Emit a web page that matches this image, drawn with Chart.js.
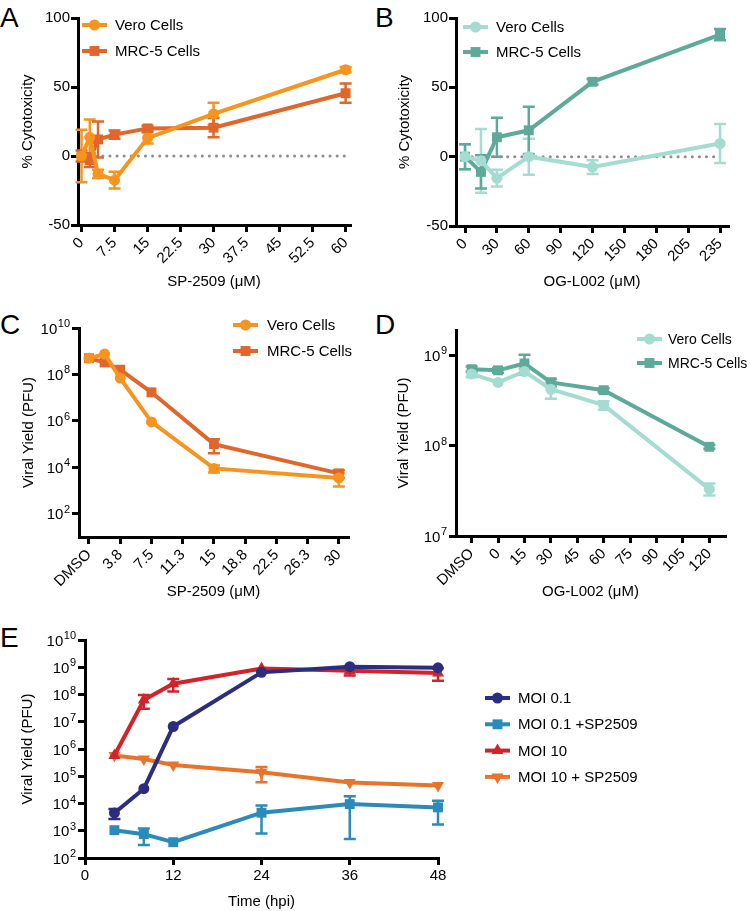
<!DOCTYPE html>
<html>
<head>
<meta charset="utf-8">
<script src="https://cdn.jsdelivr.net/npm/chart.js"></script>
<style>
  html, body { margin: 0; padding: 0; background: #fff; }
  body { position: relative; width: 750px; height: 911px; overflow: hidden;
         font-family: 'Liberation Sans', Arial, sans-serif; }
  canvas { position: absolute; }
  .letter { position: absolute; font-size: 28px; line-height: 1; color: #000; }
</style>
</head>
<body>
<div class="letter" style="left:0;top:4px">A</div>
<div class="letter" style="left:375px;top:4px">B</div>
<div class="letter" style="left:0;top:311px">C</div>
<div class="letter" style="left:375px;top:311px">D</div>
<div class="letter" style="left:0;top:624px">E</div>

<canvas id="chartA" width="375" height="305" style="left:0;top:0"></canvas>
<canvas id="chartB" width="375" height="305" style="left:375px;top:0"></canvas>
<canvas id="chartC" width="375" height="300" style="left:0;top:305px"></canvas>
<canvas id="chartD" width="375" height="300" style="left:375px;top:305px"></canvas>
<canvas id="chartE" width="750" height="301" style="left:0;top:610px"></canvas>

<script>
// ---- data ----
// A: cytotoxicity, SP-2509
const doseA = [0, 1.875, 3.75, 7.5, 15, 30, 60];
const veroA = [0, 13.5, -13, -17.5, 13, 30.5, 62.5];
const veroAErr = [19, 13, 3, 6, 4, 8, 2];
const mrcA = [0, -3, 12, 15.5, 20, 20.5, 45.5];
const mrcAErr = [4, 5, 13, 3, 2, 7, 7];
const xTicksA = [0, 7.5, 15, 22.5, 30, 37.5, 45, 52.5, 60];
const xLabelsA = ['0', '7.5', '15', '22.5', '30', '37.5', '45', '52.5', '60'];
const yTicksCyto = [-50, 0, 50, 100];

// B: cytotoxicity, OG-L002 (axis labels are evenly spaced)
const doseB = [0, 15, 30, 60, 120, 235];
const veroB = [0, -3, -15.5, 0, -7.5, 9.5];
const veroBErr = [9, 23, 6, 13, 5, 14];
const mrcB = [0, -11, 14, 19, 54, 88];
const mrcBErr = [9, 12, 14, 17, 2, 4];
const xLabelsB = ['0', '30', '60', '90', '120', '150', '180', '205', '235'];

// C: viral yield, SP-2509 (0 = DMSO)
const doseC = [0, 1.875, 3.75, 7.5, 15, 30];
const veroC = [5e8, 7.5e8, 7e7, 9e5, 9e3, 3.5e3];
const veroCErr = [0, 0, 0, 0, 3e3, 2e3];
const mrcC = [5e8, 3.3e8, 1.6e8, 1.7e7, 1e5, 5.5e3];
const mrcCErr = [0, 0, 0, 0, 6e4, 2e3];
const xTicksC = [0, 3.75, 7.5, 11.25, 15, 18.75, 22.5, 26.25, 30];
const xLabelsC = ['DMSO', '3.8', '7.5', '11.3', '15', '18.8', '22.5', '26.3', '30'];
const yTicksC = [1e2, 1e4, 1e6, 1e8, 1e10];

// D: viral yield, OG-L002 (-15 = DMSO slot)
const doseD = [-15, 0, 15, 30, 60, 120];
const veroD = [6.2e8, 5e8, 6.6e8, 4.2e8, 2.8e8, 3.3e7];
const veroDErr = [5e7, 0, 5e7, 9e7, 3e7, 5e6];
const mrcD = [7e8, 6.8e8, 8.1e8, 5e8, 4.1e8, 9.7e7];
const mrcDErr = [5e7, 4e7, 2e8, 5e7, 2e7, 5e6];
const xTicksD = [-15, 0, 15, 30, 45, 60, 75, 90, 105, 120];
const xLabelsD = ['DMSO', '0', '15', '30', '45', '60', '75', '90', '105', '120'];
const yTicksD = [1e7, 1e8, 1e9];

// E: growth curves
const timeE = [4, 8, 12, 24, 36, 48];
const moi01 = [4.5e3, 3.5e4, 6.7e6, 6.5e8, 1.05e9, 9.5e8];
const moi01Err = [1.8e3, 0, 0, 0, 0, 0];
const moi01Sp = [1.05e3, 7.5e2, 3.8e2, 4.6e3, 9.5e3, 7.2e3];
const moi01SpErr = [0, 4.5e2, 0, 3.8e3, 9e3, 5.5e3];
const moi10 = [5.8e5, 6.3e7, 2.5e8, 9e8, 7.5e8, 6.2e8];
const moi10Err = [0, 3.3e7, 1.2e8, 0, 2.5e8, 3e8];
const moi10Sp = [5.8e5, 4.3e5, 2.6e5, 1.4e5, 5.9e4, 4.6e4];
const moi10SpErr = [0, 0, 0, 8e4, 0, 0];
const xTicksE = [0, 12, 24, 36, 48];
const yTicksE = [1e2, 1e3, 1e4, 1e5, 1e6, 1e7, 1e8, 1e9, 1e10];

// ---- colours ----
const veroOrange = '#F7941F', mrcOrange = '#E0662B';
const veroTeal = '#A4DCD2', mrcTeal = '#5DAA9B';
const navy = '#2B2E7E', blue = '#2A8BBA', red = '#D2232A', orange = '#E8742C';

const FONT = '"Liberation Sans", Arial, Helvetica, sans-serif';
const TICK_SIZE = 15;
Chart.defaults.font.family = FONT;
Chart.defaults.color = '#000';

// B axis: ticks are evenly spaced (30 units each) though labelled 205/235 at the end
function axisPosB(d) {
  const t = xLabelsB.map(Number);
  for (let i = 0; i < t.length - 1; i++) {
    if (d <= t[i + 1]) return 30 * (i + (d - t[i]) / (t[i + 1] - t[i]));
  }
  return 30 * (t.length - 1);
}

const pts = (xs, ys) => xs.map((x, i) => ({ x, y: ys[i] }));

function series(label, xs, ys, errs, color, style, rot) {
  return {
    label, data: pts(xs, ys), errors: errs,
    borderColor: color, backgroundColor: color,
    borderWidth: 4, showLine: true, clip: false,
    pointStyle: style, pointRotation: rot || 0,
    pointRadius: style === 'circle' ? 5.5 : 7, pointHoverRadius: 7,
    pointBorderWidth: 0
  };
}

function zeroLine(x0, x1) {
  return {
    data: [{ x: x0, y: 0 }, { x: x1, y: 0 }], showLine: true,
    borderColor: '#8f8f8f', borderWidth: 3, borderDash: [0.1, 7], borderCapStyle: 'round',
    pointRadius: 0, clip: false
  };
}

// error bars with caps
const errorBars = {
  id: 'errorBars',
  beforeDatasetsDraw(chart) {
    const ctx = chart.ctx, ys = chart.scales.y;
    chart.data.datasets.forEach((ds, i) => {
      if (!ds.errors) return;
      const meta = chart.getDatasetMeta(i);
      ctx.save();
      ctx.strokeStyle = ds.borderColor;
      ctx.lineWidth = 2.5;
      meta.data.forEach((pt, j) => {
        const v = ds.data[j].y, e = ds.errors[j];
        if (!e) return;
        let lo = v - e;
        if (ys.type === 'logarithmic' && lo <= 0) lo = ys.min;
        const yTop = ys.getPixelForValue(v + e), yBot = ys.getPixelForValue(lo);
        ctx.beginPath();
        ctx.moveTo(pt.x, yTop); ctx.lineTo(pt.x, yBot);
        ctx.moveTo(pt.x - 6, yTop); ctx.lineTo(pt.x + 6, yTop);
        ctx.moveTo(pt.x - 6, yBot); ctx.lineTo(pt.x + 6, yBot);
        ctx.stroke();
      });
      ctx.restore();
    });
  }
};

// "10" with a raised exponent for log y ticks
const powLabels = {
  id: 'powLabels',
  afterDraw(chart) {
    const s = chart.scales.y;
    if (s.type !== 'logarithmic') return;
    const ctx = chart.ctx;
    ctx.save();
    ctx.fillStyle = '#000';
    ctx.textAlign = 'left';
    ctx.textBaseline = 'alphabetic';
    s.ticks.forEach(t => {
      const y = s.getPixelForValue(t.value);
      const exp = String(Math.round(Math.log10(t.value)));
      const xr = s.right - 9;
      ctx.font = '11px ' + FONT;
      const we = ctx.measureText(exp).width;
      ctx.fillText(exp, xr - we, y - 1);
      ctx.font = TICK_SIZE + 'px ' + FONT;
      const wb = ctx.measureText('10').width;
      ctx.fillText('10', xr - we - wb - 0.5, y + 5.5);
    });
    ctx.restore();
  }
};

// line + marker legend
const lineLegend = {
  id: 'lineLegend',
  afterDraw(chart, args, opts) {
    if (opts.x === undefined) return;
    const ctx = chart.ctx;
    chart.data.datasets.filter(d => d.label).forEach((ds, i) => {
      const y = opts.y + i * opts.gap;
      ctx.save();
      ctx.strokeStyle = ds.borderColor;
      ctx.fillStyle = ds.borderColor;
      ctx.lineWidth = 4;
      ctx.beginPath();
      ctx.moveTo(opts.x, y); ctx.lineTo(opts.x + 25, y);
      ctx.stroke();
      Chart.helpers.drawPoint(ctx, {
        pointStyle: ds.pointStyle, radius: ds.pointRadius,
        rotation: ds.pointRotation, borderWidth: 0
      }, opts.x + 12.5, y);
      ctx.fillStyle = '#000';
      ctx.font = (opts.size || 15) + 'px ' + FONT;
      ctx.textBaseline = 'middle';
      ctx.fillText(ds.label, opts.textX, y + 1);
      ctx.restore();
    });
  }
};
Chart.register(errorBars, powLabels, lineLegend);

function xAxis(o) {
  return {
    type: 'linear', min: o.min, max: o.max,
    border: { color: '#000', width: 3 },
    grid: { drawOnChartArea: false, color: '#000', lineWidth: 3, tickLength: 7 },
    ticks: {
      color: '#000', font: { size: TICK_SIZE }, padding: 2, autoSkip: false,
      minRotation: o.rot || 0, maxRotation: o.rot || 0,
      callback: (v, i) => o.labels[i]
    },
    afterBuildTicks: s => { s.ticks = o.ticks.map(v => ({ value: v })); },
    afterFit: s => { s.height = o.h; s.paddingLeft = 0; s.paddingRight = 0; },
    title: { display: true, text: o.title, font: { size: 15 }, color: '#000',
             padding: { top: 0, bottom: o.tb } }
  };
}

function yAxis(o) {
  return {
    type: o.log ? 'logarithmic' : 'linear', min: o.min, max: o.max,
    border: { color: '#000', width: 3 },
    grid: { drawOnChartArea: false, color: '#000', lineWidth: 3, tickLength: 7 },
    ticks: {
      display: !o.log, // log labels are drawn by powLabels
      color: '#000', font: { size: TICK_SIZE }, padding: 1, autoSkip: false,
      callback: v => String(v)
    },
    afterBuildTicks: s => { s.ticks = o.ticks.map(v => ({ value: v })); },
    afterFit: s => { s.width = o.w; s.paddingTop = 0; s.paddingBottom = 0; },
    title: { display: true, text: o.title, font: { size: 15 }, color: '#000',
             padding: { top: o.tp, bottom: 0 } }
  };
}

function makeChart(id, datasets, pad, scales, legend) {
  return new Chart(document.getElementById(id), {
    type: 'scatter',
    data: { datasets },
    options: {
      responsive: false, animation: false,
      layout: { padding: pad },
      plugins: { legend: { display: false }, tooltip: { enabled: false }, lineLegend: legend },
      scales
    }
  });
}

function drawAll() {
  // A
  makeChart('chartA', [
    series('Vero Cells', doseA, veroA, veroAErr, veroOrange, 'circle'),
    series('MRC-5 Cells', doseA, mrcA, mrcAErr, mrcOrange, 'rect'),
    zeroLine(0, 60)
  ], { top: 18, right: 25, left: 0, bottom: 0 }, {
    x: xAxis({ min: -0.8, max: 61, ticks: xTicksA, labels: xLabelsA, rot: 45, h: 80,
               title: 'SP-2509 (μM)', tb: 14 }),
    y: yAxis({ min: -50, max: 100, ticks: yTicksCyto, w: 78, title: '% Cytotoxicity', tp: 19 })
  }, { x: 82, y: 25, gap: 26, textX: 115 });

  // B
  makeChart('chartB', [
    series('Vero Cells', doseB.map(axisPosB), veroB, veroBErr, veroTeal, 'circle'),
    series('MRC-5 Cells', doseB.map(axisPosB), mrcB, mrcBErr, mrcTeal, 'rect'),
    zeroLine(0, 240)
  ], { top: 18, right: 22, left: 0, bottom: 0 }, {
    x: xAxis({ min: -8.5, max: 247.5, ticks: xLabelsB.map((_, i) => i * 30), labels: xLabelsB,
               rot: 45, h: 79, title: 'OG-L002 (μM)', tb: 14 }),
    y: yAxis({ min: -50, max: 100, ticks: yTicksCyto, w: 81, title: '% Cytotoxicity', tp: 21 })
  }, { x: 88, y: 27, gap: 25, textX: 121 });

  // C
  makeChart('chartC', [
    series('Vero Cells', doseC, veroC, veroCErr, veroOrange, 'circle'),
    series('MRC-5 Cells', doseC, mrcC, mrcCErr, mrcOrange, 'rect')
  ], { top: 23, right: 27, left: 0, bottom: 0 }, {
    x: xAxis({ min: -1.2, max: 31.1, ticks: xTicksC, labels: xLabelsC, rot: 45, h: 68,
               title: 'SP-2509 (μM)', tb: 4 }),
    y: yAxis({ log: true, min: 10, max: 1e10, ticks: yTicksC, w: 79, title: 'Viral Yield (PFU)', tp: 20 })
  }, { x: 233, y: 20, gap: 26, textX: 267 });

  // D
  makeChart('chartD', [
    series('Vero Cells', doseD, veroD, veroDErr, veroTeal, 'circle'),
    series('MRC-5 Cells', doseD, mrcD, mrcDErr, mrcTeal, 'rect')
  ], { top: 25, right: 25, left: 0, bottom: 0 }, {
    x: xAxis({ min: -23.9, max: 128.9, ticks: xTicksD, labels: xLabelsD, rot: 45, h: 69,
               title: 'OG-L002 (μM)', tb: 4 }),
    y: yAxis({ log: true, min: 1e7, max: 1.9e9, ticks: yTicksD, w: 81, title: 'Viral Yield (PFU)', tp: 20 })
  }, { x: 262, y: 34, gap: 24, textX: 293, size: 14 });

  // E
  makeChart('chartE', [
    series('MOI 0.1', timeE, moi01, moi01Err, navy, 'circle'),
    series('MOI 0.1 +SP2509', timeE, moi01Sp, moi01SpErr, blue, 'rect'),
    series('MOI 10', timeE, moi10, moi10Err, red, 'triangle'),
    series('MOI 10 + SP2509', timeE, moi10Sp, moi10SpErr, orange, 'triangle', 180)
  ], { top: 30, right: 312, left: 0, bottom: 0 }, {
    x: xAxis({ min: 0, max: 48, ticks: xTicksE, labels: xTicksE.map(String), h: 53,
               title: 'Time (hpi)', tb: 0 }),
    y: yAxis({ log: true, min: 100, max: 1e10, ticks: yTicksE, w: 85, title: 'Viral Yield (PFU)', tp: 19 })
  }, { x: 485, y: 88, gap: 26.3, textX: 518 });
}

// make sure the system font is active before canvas text is drawn
Promise.all([
  document.fonts.load('15px "Liberation Sans"'),
  document.fonts.load('11px "Liberation Sans"')
]).catch(() => {}).then(drawAll);
</script>
</body>
</html>
